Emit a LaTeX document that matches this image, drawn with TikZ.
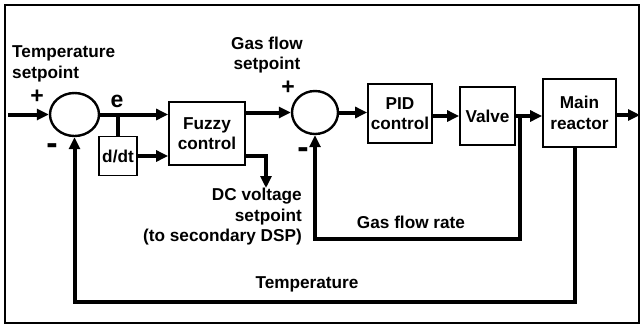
\documentclass[tikz,border=0pt]{standalone}
\usepackage{fontspec}
\setmainfont{Liberation Sans}
\usetikzlibrary{arrows.meta,shapes.geometric}
\tikzset{
  lbl/.style={font=\fontsize{17.2}{20.5}\selectfont\bfseries, inner sep=0pt},
  blk/.style={draw, line width=1.8pt, rectangle, inner sep=0pt, align=center,
    font=\fontsize{17.2}{20.5}\selectfont\bfseries},
  sumnode/.style={draw, line width=2.4pt, ellipse, inner sep=0pt},
  conn/.style={line width=4pt, -{Triangle[length=12pt,width=11pt]}},
  wire/.style={line width=4pt},
  sign/.style={font=\fontsize{23}{23}\selectfont\bfseries, inner sep=0pt},
  minus/.style={font=\fontsize{34}{34}\selectfont\bfseries, inner sep=0pt},
}
\begin{document}
\begin{tikzpicture}[x=1pt,y=-1pt]
\useasboundingbox (0,0) rectangle (640,325);
\draw[line width=2pt] (5,5) rectangle (639,323);

% blocks
\node[sumnode, minimum width=49pt, minimum height=43pt] (c1) at (74.5,114.5) {};
\node[sumnode, minimum width=46pt, minimum height=43pt] (c2) at (315,112.5) {};
\node[blk, minimum width=76pt, minimum height=63pt] (fuzzy) at (207,133.5) {Fuzzy\\control};
\node[blk, minimum width=38pt, minimum height=39pt] (ddt) at (118,156) {d/dt};
\node[blk, minimum width=64pt, minimum height=59pt] (pid) at (400,113.5) {PID\\control};
\node[blk, minimum width=55pt, minimum height=58pt] (valve) at (487.5,116) {Valve};
\node[blk, minimum width=73pt, minimum height=68pt] (main) at (579.5,113) {Main\\reactor};

% helper coordinates
\coordinate (in) at (8,114.5);
\coordinate (out) at (640,115);
\coordinate (dc) at (266,188);
\coordinate (gb) at (520,239);
\coordinate (tb) at (575,302);

% connectors
\draw[conn] (in) -- (c1.west);
\draw[conn] (c1.east) -- (c1.east -| fuzzy.west);
\draw[wire] (c1.east -| ddt.north) -- (ddt.north);
\draw[conn] (ddt.east) -- (ddt.east -| fuzzy.west);
\draw[conn] (c2.west -| fuzzy.east) -- (c2.west);
\draw[conn] (fuzzy.east |- ddt.east) -| (dc);
\draw[conn] (c2.east) -- (c2.east -| pid.west);
\draw[conn] (valve.west -| pid.east) -- (valve.west);
\draw[conn] (valve.east) -- (valve.east -| main.west);
\draw[conn] (main.east |- out) -- (out);
\draw[conn] (valve.east -| gb) -- (gb) -| (c2.south);
\draw[conn] (main.south -| tb) -- (tb) -| (c1.south);

% labels
\node[lbl, align=left, anchor=west] (tsp) at (12,64) {Temperature\\setpoint};
\node[sign] (elbl) at (117,101) {e};
\node[sign] (p1) at (37,97) {+};
\node[minus] (m1) at (52,149) {-};
\node[lbl, align=center] (gsp) at (267,55) {Gas flow\\setpoint};
\node[sign] (p2) at (288,88) {+};
\node[minus] (m2) at (303,153) {-};
\node[lbl, align=right, anchor=east] (dcl) at (302,217) {DC voltage\\setpoint\\(to secondary DSP)};
\node[lbl] (gfr) at (411,222) {Gas flow rate};
\node[lbl] (tmp) at (307,284) {Temperature};
\end{tikzpicture}
\end{document}
